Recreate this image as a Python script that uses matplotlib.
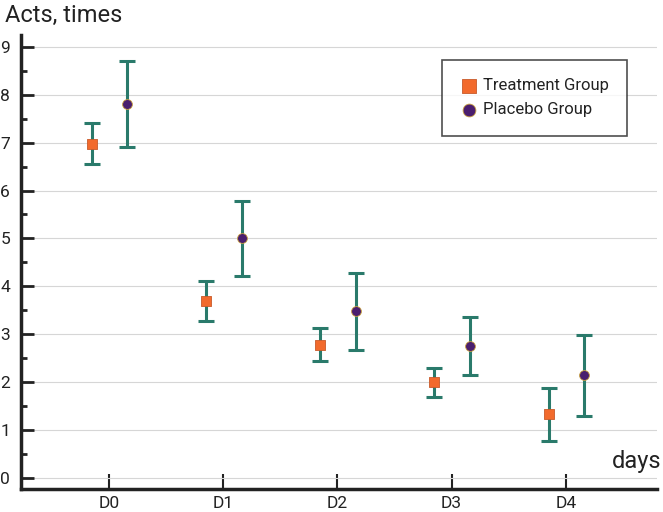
import numpy as np
import matplotlib
matplotlib.use("Agg")
import matplotlib.pyplot as plt
from matplotlib.ticker import MultipleLocator

plt.rcParams['font.family'] = ['Liberation Sans Narrow', 'Roboto', 'DejaVu Sans']

days = ["D0", "D1", "D2", "D3", "D4"]

treat_mean = [6.97, 3.70, 2.78, 2.00, 1.33]
treat_low = [6.55, 3.28, 2.45, 1.68, 0.78]
treat_high = [7.40, 4.12, 3.12, 2.30, 1.88]

plac_mean = [7.80, 5.00, 3.48, 2.75, 2.15]
plac_low = [6.90, 4.22, 2.67, 2.15, 1.30]
plac_high = [8.70, 5.78, 4.28, 3.35, 2.98]

teal = "#2a7a6b"
orange = "#f26a2c"
purple = "#4a1e6e"
dark = "#222222"

fig = plt.figure(figsize=(6.63, 5.12), dpi=100)
ax = fig.add_axes([0.032, 0.045, 0.959, 0.887])

x = np.arange(len(days))
tm = np.array(treat_mean)
pm = np.array(plac_mean)
t_err = [tm - np.array(treat_low), np.array(treat_high) - tm]
p_err = [pm - np.array(plac_low), np.array(plac_high) - pm]

ax.errorbar(x - 0.15, tm, yerr=t_err, fmt="none", ecolor=teal, elinewidth=2.2,
            capsize=6, capthick=2.2, zorder=3)
ax.errorbar(x + 0.16, pm, yerr=p_err, fmt="none", ecolor=teal, elinewidth=2.2,
            capsize=6, capthick=2.2, zorder=3)
ax.scatter(x - 0.15, tm, marker="s", s=60, color=orange, edgecolors="#c85a2a",
           linewidths=0.6, zorder=4, label="Treatment Group")
ax.scatter(x + 0.16, pm, marker="o", s=50, color=purple, edgecolors="#c8a040",
           linewidths=0.6, zorder=4, label="Placebo Group")

ax.set_xlim(-0.77, 4.8)
ax.set_ylim(-0.23, 9.25)
ax.set_xticks(x)
ax.set_xticklabels(days)
ax.yaxis.set_major_locator(MultipleLocator(1))
ax.yaxis.set_minor_locator(MultipleLocator(0.5))

ax.grid(axis="y", which="major", color="#d6d6d6", linewidth=0.8)
ax.set_axisbelow(True)

for s in ["top", "right"]:
    ax.spines[s].set_visible(False)
for s in ["left", "bottom"]:
    ax.spines[s].set_color(dark)
    ax.spines[s].set_linewidth(2.5)

ax.tick_params(axis="y", which="major", direction="in", length=9, width=2,
               color=dark, labelsize=12.5, pad=8, labelcolor=dark)
ax.tick_params(axis="y", which="minor", direction="in", length=4, width=2, color=dark)
ax.tick_params(axis="x", which="major", direction="in", length=11, width=1.5,
               color=dark, labelsize=12.5, pad=5, labelcolor=dark)

fig.text(0.008, 0.97, "Acts, times", fontsize=17, ha="left", va="center", color=dark)
fig.text(0.997, 0.098, "days", fontsize=17, ha="right", va="center", color=dark)

leg = ax.legend(loc="upper right", bbox_to_anchor=(0.953, 0.945), fontsize=12,
                frameon=True, fancybox=False, edgecolor=dark, handletextpad=0.35,
                borderpad=1.1, labelspacing=0.55, handlelength=1.0,
                borderaxespad=0, markerscale=1.3)
leg.get_frame().set_linewidth(1.2)
for t in leg.get_texts():
    t.set_color(dark)

fig.savefig("out.png", dpi=100)
